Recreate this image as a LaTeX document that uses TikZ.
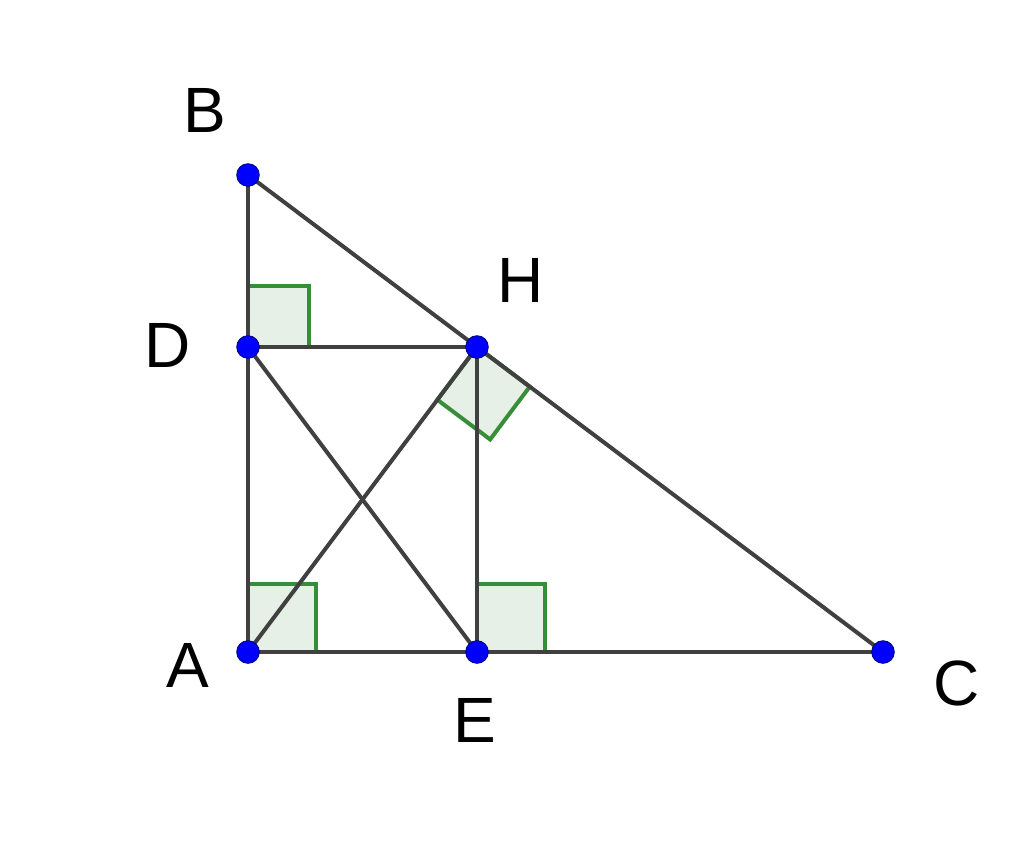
\documentclass[tikz,border=0pt]{standalone}
\usepackage{fontspec}
\setmainfont{Liberation Sans}
\usetikzlibrary{calc}

\tikzset{
	segment/.style={draw={rgb, 255:red, 64; green, 64; blue, 64}, line width=3pt},
	rightangle/.style={draw={rgb, 255:red, 56; green, 142; blue, 56}, fill={rgb, 255:red, 230; green, 240; blue, 230}, line width=3pt, line join=miter},
	point/.style={circle, fill={rgb, 255:red, 0; green, 0; blue, 255}, draw={rgb, 255:red, 0; green, 0; blue, 120}, line width=0.6pt, inner sep=0pt, minimum size=17pt},
	label/.style={inner sep=0pt, font=\fontsize{48}{56}\selectfont}}

\begin{document}
\begin{tikzpicture}[x=0.75pt,y=0.75pt,yscale=-1,xscale=1]
	\path (0,0) rectangle (1024,840); %frame of the picture
	
	% Points
	\coordinate (A) at (248,652);
	\coordinate (B) at (248,175);
	\coordinate (C) at (883,652);
	\coordinate (H) at (477,347);
	\coordinate (D) at (248,347);
	\coordinate (E) at (477,652);
	
	%Shape: Right angle at D
	\draw [rightangle] (D) -- ++(61,0) -- ++(0,-61) -- ++(-61,0) -- cycle ;
	%Shape: Right angle at A
	\draw [rightangle] (A) -- ++(68,0) -- ++(0,-68) -- ++(-68,0) -- cycle ;
	%Shape: Right angle at E
	\draw [rightangle] (E) -- ++(68,0) -- ++(0,-68) -- ++(-68,0) -- cycle ;
	%Shape: Right angle at H
	\coordinate (HA) at ($(H)!49.5pt!(A)$);
	\coordinate (HC) at ($(H)!49.5pt!(C)$);
	\draw [rightangle] (H) -- (HA) -- ($(HA)+(HC)-(H)$) -- (HC) -- cycle ;
	
	%Straight Lines: triangle
	\draw [segment] (A) -- (B) ;
	\draw [segment] (B) -- (C) ;
	\draw [segment] (C) -- (A) ;
	%Straight Lines: inside
	\draw [segment] (A) -- (H) ;
	\draw [segment] (D) -- (H) ;
	\draw [segment] (H) -- (E) ;
	\draw [segment] (D) -- (E) ;
	
	% Dots
	\foreach \p in {A,B,C,D,E,H}
		\node [point] (dot\p) at (\p) {};
	
	% Text Node
	\node [label] (labB) at (205,110) {B};
	% Text Node
	\node [label] (labD) at (168,345) {D};
	% Text Node
	\node [label] (labH) at (521,280) {H};
	% Text Node
	\node [label] (labA) at (188,665) {A};
	% Text Node
	\node [label] (labE) at (475,720) {E};
	% Text Node
	\node [label] (labC) at (957,683) {C};
	
\end{tikzpicture}
\end{document}
